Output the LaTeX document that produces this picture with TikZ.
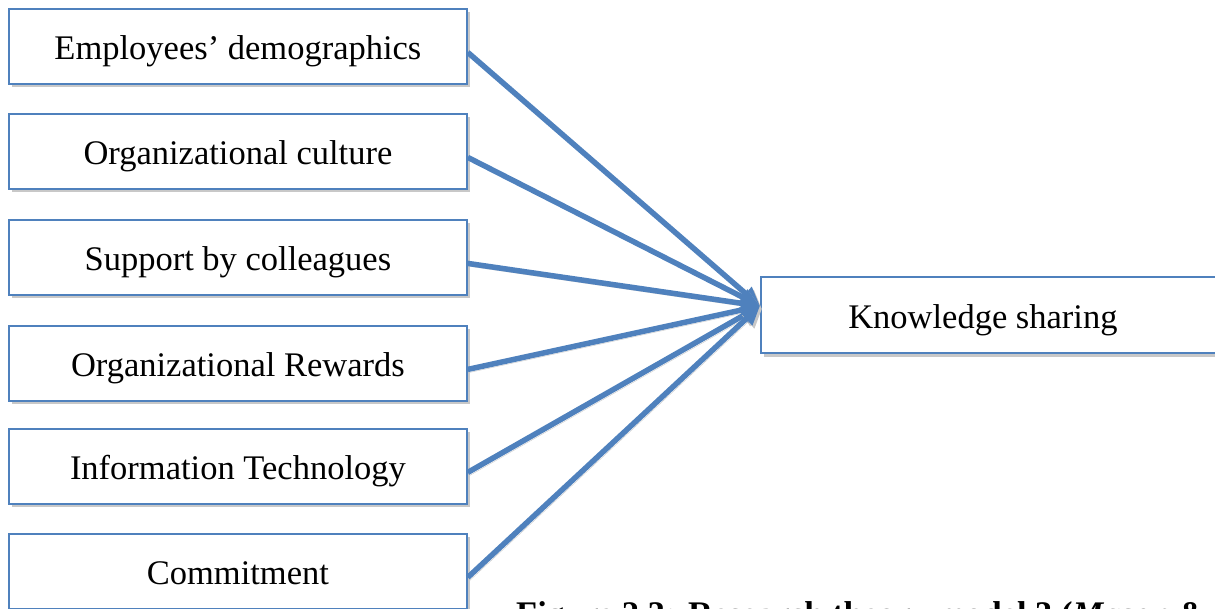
\documentclass[tikz,border=0pt]{standalone}
\usepackage{fontspec}
\setmainfont{Liberation Serif}
\usetikzlibrary{arrows.meta,shadows}
\definecolor{obl}{HTML}{4F81BD}
\definecolor{shd}{HTML}{C8C8C8}
\begin{document}
\begin{tikzpicture}[x=1pt,y=-1pt,
  txt/.style={font=\fontsize{34.5}{40}\selectfont},
  box/.style={txt, draw=obl, line width=1.8pt, fill=white, minimum width=458pt,
    minimum height=75pt, inner sep=0pt, text height=27pt, text depth=0pt,
    drop shadow={shadow xshift=3pt, shadow yshift=-3.5pt, fill=shd, opacity=1}},
  conn/.style={draw=obl, line width=5.5pt, -{Triangle[length=19pt,width=17pt]},
    preaction={draw=shd, transform canvas={shift={(2pt,-3pt)}}}}]
\useasboundingbox (0,0) rectangle (1215,608);
\clip (0,0) rectangle (1215,608);
\node[box, anchor=north west] (b1) at (8,8) {Employees’ demographics};
\node[box, anchor=north west] (b2) at (8,113) {Organizational culture};
\node[box, anchor=north west] (b3) at (8,219) {Support by colleagues};
\node[box, anchor=north west] (b4) at (8,325) {Organizational Rewards};
\node[box, anchor=north west] (b5) at (8,428) {Information Technology};
\node[box, anchor=north west] (b6) at (8,533) {Commitment};
\node[box, minimum width=470pt, minimum height=76pt, anchor=west] (ks) at (760,315) {Knowledge sharing\hspace*{26pt}};
\foreach \n in {b1,b2,b3,b4,b5,b6}
  \draw[conn] ([yshift=-6pt]\n.east) -- ([yshift=9pt]ks.west);
\node[anchor=base west, inner sep=0pt, txt, font=\fontsize{34.5}{40}\selectfont\bfseries] (cap) at (516,625)
  {Figure 2.3: Research theory model 3 (\textit{Mason} \& Pauleen, 2003)};
\end{tikzpicture}
\end{document}
